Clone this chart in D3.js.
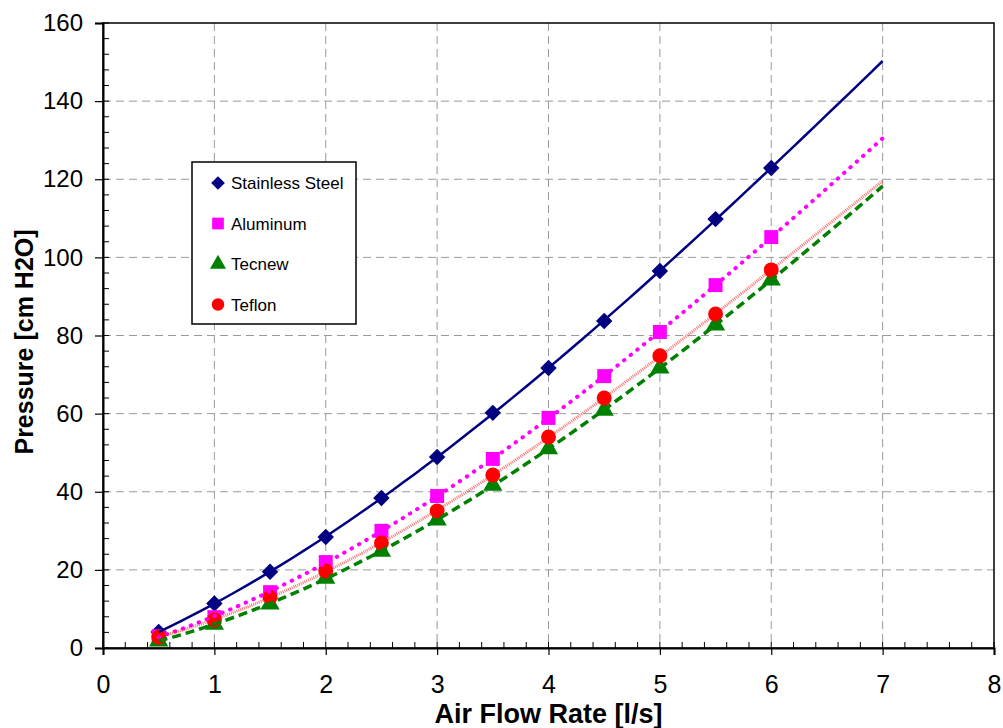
<!DOCTYPE html>
<html>
<head>
<meta charset="utf-8">
<script src="https://cdn.jsdelivr.net/npm/d3@7"></script>
<style>
  body { margin: 0; background: #fff; }
  svg { display: block; }
</style>
</head>
<body>
<div id="chart"></div>
<script>
// Data
var flow = [0.5, 1, 1.5, 2, 2.5, 3, 3.5, 4, 4.5, 5, 5.5, 6];
var stainless = [4.1, 11.4, 19.5, 28.4, 38.4, 48.9, 60.2, 71.7, 83.7, 96.5, 109.8, 122.9];
var aluminum  = [3.0, 7.9, 14.3, 22.0, 30.0, 38.9, 48.4, 58.9, 69.6, 80.9, 92.9, 105.2];
var tecnew    = [1.8, 6.1, 11.3, 17.9, 24.8, 32.8, 41.7, 51.0, 60.9, 71.7, 82.7, 94.2];
var teflon    = [2.8, 7.2, 13.0, 19.7, 26.9, 35.1, 44.3, 54.0, 64.0, 74.8, 85.5, 96.8];
var seriesNames = ["Stainless Steel", "Aluminum", "Tecnew", "Teflon"];
var xTicks = [0, 1, 2, 3, 4, 5, 6, 7, 8];
var yTicks = [0, 20, 40, 60, 80, 100, 120, 140, 160];
var trendEnd = 7;

var W = 1003, H = 728;
var margin = {top: 23, right: 9, bottom: 80, left: 103},
    width = 994 - margin.left,
    height = 648 - margin.top;

var svg = d3.select("#chart").append("svg")
    .attr("width", W).attr("height", H)
  .append("g")
    .attr("transform", "translate(" + margin.left + "," + margin.top + ")");

var x = d3.scaleLinear().domain([0, 8]).range([0, width]);
var y = d3.scaleLinear().domain([0, 160]).range([height, 0]);

// gridlines
svg.append("g").selectAll("line")
    .data(xTicks.filter(d => d > 0 && d < 8))
    .enter().append("line")
    .attr("x1", d => x(d)).attr("x2", d => x(d))
    .attr("y1", 0).attr("y2", height)
    .attr("stroke", "#9a9a9a").attr("stroke-width", 1)
    .attr("stroke-dasharray", "8,5");
svg.append("g").selectAll("line")
    .data(yTicks.filter(d => d > 0 && d < 160))
    .enter().append("line")
    .attr("y1", d => y(d)).attr("y2", d => y(d))
    .attr("x1", 0).attr("x2", width)
    .attr("stroke", "#9a9a9a").attr("stroke-width", 1)
    .attr("stroke-dasharray", "8,5");

// plot frame
svg.append("rect")
    .attr("width", width).attr("height", height)
    .attr("fill", "none").attr("stroke", "#000").attr("stroke-width", 1.5);

// minor ticks (inside)
svg.append("g").selectAll("line")
    .data(d3.range(0, 8.001, 0.2))
    .enter().append("line")
    .attr("x1", d => x(d)).attr("x2", d => x(d))
    .attr("y1", height).attr("y2", height - 6)
    .attr("stroke", "#000");
svg.append("g").selectAll("line")
    .data(d3.range(0, 160.001, 4))
    .enter().append("line")
    .attr("y1", d => y(d)).attr("y2", d => y(d))
    .attr("x1", 0).attr("x2", 6)
    .attr("stroke", "#000");

// axes
var xAxis = svg.append("g")
    .attr("transform", "translate(0," + height + ")")
    .call(d3.axisBottom(x).tickValues(xTicks).tickSize(7).tickPadding(20));
var yAxis = svg.append("g")
    .call(d3.axisLeft(y).tickValues(yTicks).tickSize(8).tickPadding(12));
[xAxis, yAxis].forEach(function(a) {
    a.select(".domain").attr("stroke-width", 2);
    a.selectAll(".tick line").attr("stroke-width", 1.2);
});
xAxis.selectAll("text")
    .style("font-family", "'Liberation Sans Narrow', 'Arial Narrow', Arial, sans-serif")
    .style("font-size", "25px").attr("fill", "#000");
yAxis.selectAll("text")
    .style("font-family", "'Liberation Sans', Arial, sans-serif")
    .style("font-size", "24px").attr("fill", "#000");

// axis titles
svg.append("text")
    .attr("x", x(4.0)).attr("y", height + 75)
    .attr("text-anchor", "middle")
    .style("font-family", "'Liberation Sans Narrow', 'Arial Narrow', Arial, sans-serif")
    .style("font-weight", "bold").style("font-size", "27px")
    .text("Air Flow Rate [l/s]");
svg.append("text")
    .attr("transform", "rotate(-90)")
    .attr("x", -(342 - margin.top)).attr("y", -margin.left + 33)
    .attr("text-anchor", "middle")
    .style("font-family", "'Liberation Sans Narrow', 'Arial Narrow', Arial, sans-serif")
    .style("font-weight", "bold").style("font-size", "25px")
    .text("Pressure [cm H2O]");

// series styles
var colors = ["#000080", "#ff00ff", "#008000", "#ff0000"];
var symbols = [d3.symbolSquare, d3.symbolSquare, d3.symbolTriangle, d3.symbolCircle];
var rotate = [45, 0, 0, 0];
var symSize = [135, 195, 160, 175];
var allSeries = [stainless, aluminum, tecnew, teflon];

// polynomial least-squares trendline (degree 3), like the spreadsheet trendline
function polyFit(xs, ys, deg) {
    var n = deg + 1;
    var A = d3.range(n).map(r => d3.range(n + 1).map(c =>
        c < n ? d3.sum(xs, v => Math.pow(v, r + c)) : d3.sum(xs, (v, i) => ys[i] * Math.pow(v, r))));
    for (var c = 0; c < n; c++) {
        for (var r = c + 1; r < n; r++) {
            var f = A[r][c] / A[c][c];
            for (var j = c; j <= n; j++) A[r][j] -= f * A[c][j];
        }
    }
    var b = new Array(n).fill(0);
    for (var r2 = n - 1; r2 >= 0; r2--) {
        var v = A[r2][n];
        for (var j2 = r2 + 1; j2 < n; j2++) v -= A[r2][j2] * b[j2];
        b[r2] = v / A[r2][r2];
    }
    return function(xv) { return d3.sum(b, (k, p) => k * Math.pow(xv, p)); };
}

// markers
allSeries.forEach(function(vals, i) {
    svg.append("g").selectAll("path")
        .data(flow.map((f, j) => [f, vals[j]]))
        .enter().append("path")
        .attr("transform", d => "translate(" + x(d[0]) + "," + y(d[1]) + ") rotate(" + rotate[i] + ")")
        .attr("d", d3.symbol().type(symbols[i]).size(symSize[i]))
        .attr("fill", colors[i]);
});

// trendlines drawn over markers
var line = d3.line().x(d => x(d[0])).y(d => y(d[1]));
var trendStyles = [
    {w: 2.5, dash: null},
    {w: 4, dash: "0.5,8", cap: "round"},
    {w: 3.5, dash: "9,5"},
    {w: 3, dash: "1,1"}
];
allSeries.forEach(function(vals, i) {
    var fit = polyFit(flow, vals, 3);
    var pts = d3.range(flow[0], trendEnd + 0.001, 0.1).map(v => [v, fit(v)]);
    var st = trendStyles[i];
    var p = svg.append("path").datum(pts)
        .attr("d", line).attr("fill", "none")
        .attr("stroke", colors[i]).attr("stroke-width", st.w);
    if (st.dash) p.attr("stroke-dasharray", st.dash);
    if (st.cap) p.attr("stroke-linecap", st.cap);
    if (i === 3) p.attr("stroke-opacity", 0.55);
});

// legend
var legend = svg.append("g")
    .attr("transform", "translate(" + (192 - margin.left) + "," + (162 - margin.top) + ")");
legend.append("rect")
    .attr("width", 164).attr("height", 162)
    .attr("fill", "#fff").attr("stroke", "#000").attr("stroke-width", 1.5);
seriesNames.forEach(function(name, i) {
    var ly = 21 + i * 40.5;
    legend.append("path")
        .attr("transform", "translate(26," + ly + ") rotate(" + rotate[i] + ")")
        .attr("d", d3.symbol().type(symbols[i]).size(symSize[i] * 0.7))
        .attr("fill", colors[i]);
    legend.append("text")
        .attr("x", 39).attr("y", ly + 6)
        .style("font-family", "'Liberation Sans', Arial, sans-serif")
        .style("font-size", "17px")
        .text(name);
});
</script>
</body>
</html>
